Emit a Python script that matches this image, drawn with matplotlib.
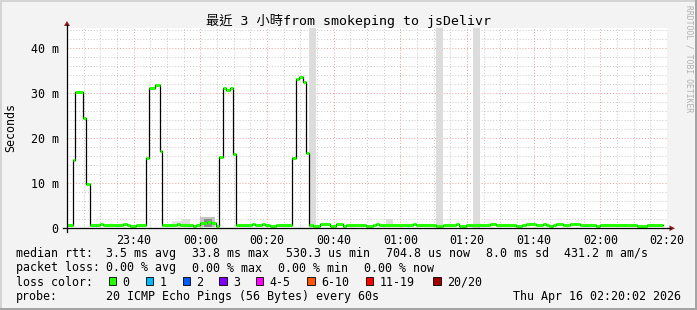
import matplotlib
matplotlib.use("Agg")
import matplotlib.pyplot as plt
from matplotlib.lines import Line2D
from matplotlib.patches import Polygon, Rectangle
from matplotlib.ticker import MultipleLocator, FixedLocator, FixedFormatter

# size of the picture in pixels
W, H = 697, 310

# median rtt, step starts in minutes after 23:20, values in ms
rtt_t = [0.0, 1.7, 2.5, 4.7, 5.7, 6.8, 9.9, 10.9, 16.9, 17.9, 18.9, 20.7,
         23.7, 24.7, 26.4, 27.8, 28.6, 32.9, 33.9, 37.9, 38.6, 39.9, 41.9,
         43.2, 44.6, 45.7, 46.7, 47.7, 48.9, 49.7, 50.6, 55.4, 56.4, 58.4,
         59.4, 60.9, 62.7, 67.5, 68.6, 69.7, 70.7, 71.6, 72.7, 73.8, 75.9,
         78.9, 80.7, 82.7, 83.7, 89.7, 91.7, 92.7, 93.7, 103.7, 104.7,
         110.7, 112.7, 116.7, 117.6, 119.7, 126.9, 128.8, 134.7, 136.5,
         137.7, 140.7, 142.7, 143.7, 144.6, 145.7, 146.7, 148.7, 150.9,
         153.9, 158.7, 159.9, 170.9, 173.9]
rtt_ms = [0.6, 15.1, 30.3, 24.5, 9.8, 0.7, 0.9, 0.7, 0.9, 0.7, 0.5, 0.7,
          15.5, 31.1, 31.7, 17.1, 0.7, 0.9, 0.7, 0.4, 0.7, 1.0, 1.4,
          1.2, 0.4, 15.8, 31.1, 30.7, 31.1, 16.4, 0.7, 0.9, 0.6, 0.9,
          0.7, 0.5, 0.7, 15.6, 33.0, 33.6, 32.5, 16.7, 0.6, 0.45, 0.8,
          0.45, 0.8, 0.4, 0.7, 0.45, 0.7, 0.95, 0.7, 0.9, 0.7,
          0.5, 0.7, 0.95, 0.55, 0.7, 0.95, 0.7, 0.5, 0.7,
          0.95, 0.7, 0.9, 0.7, 0.5, 0.7, 0.95, 0.7, 0.95,
          0.7, 0.5, 0.7, 0.55, 0.7]
rtt_end = 178.7

# smoke: start, end, top (ms), shade
smoke_t0 = [31.4, 34.4, 39.9, 41.0, 95.7]
smoke_t1 = [34.4, 36.9, 44.4, 43.6, 97.7]
smoke_top = [1.6, 1.9, 2.4, 2.0, 2.0]
smoke_col = ["#e4e4e4", "#dcdcdc", "#c4c4c4", "#8c8c8c", "#dcdcdc"]

# unknown data columns (full height)
gap_t0 = [72.6, 110.7, 121.7]
gap_t1 = [74.6, 112.7, 123.9]

x_labels = ["23:40", "00:00", "00:20", "00:40", "01:00", "01:20",
            "01:40", "02:00", "02:20"]
y_labels = ["0", "10 m", "20 m", "30 m", "40 m"]

loss_names = ["0", "1", "2", "3", "4-5", "6-10", "11-19", "20/20"]
loss_colors = ["#26ff00", "#00b8ff", "#0059ff", "#7e00ff", "#ff00ff",
               "#ff5500", "#ff0000", "#a00000"]

title = "最近 3 小時from smokeping to jsDelivr"
rtt_items = ["median rtt:", "3.5 ms avg", "33.8 ms max", "530.3 us min",
             "704.8 us now", "8.0 ms sd", "431.2 m am/s"]
loss_items = ["packet loss:", "0.00 % avg", "0.00 % max", "0.00 % min",
              "0.00 % now"]
probe_items = ["probe:", "20 ICMP Echo Pings (56 Bytes) every 60s"]
stamp = "Thu Apr 16 02:20:02 2026"

plt.rcParams["font.family"] = ["DejaVu Sans Mono", "Noto Sans CJK TC"]
plt.rcParams["font.size"] = 8.4


def fx(px):
    return px / W


def fy(py):
    return 1 - py / H


fig = plt.figure(figsize=(W / 100, H / 100), dpi=100, facecolor="#f3f3f3")
ax = fig.add_axes([fx(67), fy(228), 600 / W, 200 / H])
ax.set_facecolor("white")
ax.set_xlim(0, 180)
ax.set_ylim(0, 44.44)

# grid
ax.xaxis.set_minor_locator(MultipleLocator(5))
ax.yaxis.set_minor_locator(MultipleLocator(2))
ax.xaxis.set_major_locator(FixedLocator([20 * (i + 1) for i in range(len(x_labels))]))
ax.xaxis.set_major_formatter(FixedFormatter(x_labels))
ax.yaxis.set_major_locator(FixedLocator([10 * i for i in range(len(y_labels))]))
ax.yaxis.set_major_formatter(FixedFormatter(y_labels))
ax.grid(which="minor", color="#c8c8c8", linestyle=(0, (1, 2)), lw=0.7)
ax.grid(which="major", color="#f09a9a", linestyle=(0, (1, 2)), lw=0.7)
ax.set_axisbelow(True)
ax.tick_params(which="both", length=0)
ax.tick_params(axis="x", pad=4)
ax.tick_params(axis="y", pad=6)
for s in ax.spines.values():
    s.set_visible(False)

# unknown columns and smoke
for a, b in zip(gap_t0, gap_t1):
    ax.axvspan(a, b, color="#dcdcdc", lw=0, zorder=1)
for a, b, top, c in zip(smoke_t0, smoke_t1, smoke_top, smoke_col):
    ax.fill_between([a, b], 0.3, top, color=c, lw=0, zorder=2)

# median line: black steps, green per sample
ts = rtt_t + [rtt_end]
vs = rtt_ms + [rtt_ms[-1]]
ax.step(ts, vs, where="post", color="black", lw=0.9, zorder=3)
ax.hlines(rtt_ms, rtt_t, ts[1:], color=loss_colors[0], lw=2.2, zorder=4)

# axis lines with arrows
fig.add_artist(Line2D([fx(67), fx(67)], [fy(232), fy(25)], color="black", lw=0.9))
fig.add_artist(Line2D([fx(63), fx(670)], [fy(228), fy(228)], color="black", lw=0.9))
fig.add_artist(Polygon([(fx(64), fy(26)), (fx(70), fy(26)), (fx(67), fy(21))],
                       closed=True, color="#8b1a1a", lw=0))
fig.add_artist(Polygon([(fx(669.5), fy(225.5)), (fx(669.5), fy(231)), (fx(675), fy(228.3))],
                       closed=True, color="#8b1a1a", lw=0))

# frame
fig.add_artist(Rectangle((0, fy(2)), 1, 2 / H, color="#d4d4d4", lw=0))
fig.add_artist(Rectangle((0, 0), 2 / W, 1, color="#d4d4d4", lw=0))
fig.add_artist(Rectangle((0, 0), 1, 2 / H, color="#a4a4a4", lw=0))
fig.add_artist(Rectangle((fx(695), 0), 2 / W, 1, color="#a4a4a4", lw=0))

# texts
fig.text(fx(348), fy(21), title, ha="center", va="center", fontsize=9.5)
fig.text(fx(11), fy(127), "Seconds", rotation=90, ha="center", va="center")
fig.text(fx(689), fy(5), "RRDTOOL / TOBI OETIKER", rotation=-90,
         ha="center", va="top", fontsize=5.8, color="#b0b0b0")

# legend rows, items placed at rrdtool's columns
rtt_x = [16, 106.5, 192.5, 285.5, 385.5, 485.5, 564.5]
for px, s in zip(rtt_x, rtt_items):
    fig.text(fx(px), fy(253.5), s, va="center")
loss_x = [16, 106.5, 192.5, 278.5, 364.5]
for px, s in zip(loss_x, loss_items):
    fig.text(fx(px), fy(268), s, va="center")
fig.text(fx(16), fy(282), "loss color:", va="center")
probe_x = [16, 106.5]
for px, s in zip(probe_x, probe_items):
    fig.text(fx(px), fy(296.5), s, va="center")
fig.text(fx(681), fy(296.5), stamp, ha="right", va="center")

box_x = [108.5, 145.5, 182.5, 219, 255.5, 307, 365.5, 433]
for bx, name, c in zip(box_x, loss_names, loss_colors):
    fig.add_artist(Rectangle((fx(bx), fy(284.5)), 7.5 / W, 7.5 / H,
                             facecolor=c, edgecolor="black", lw=0.6))
    fig.text(fx(bx + 14), fy(282), name, va="center")

fig.savefig("out.png", dpi=100, facecolor=fig.get_facecolor())
